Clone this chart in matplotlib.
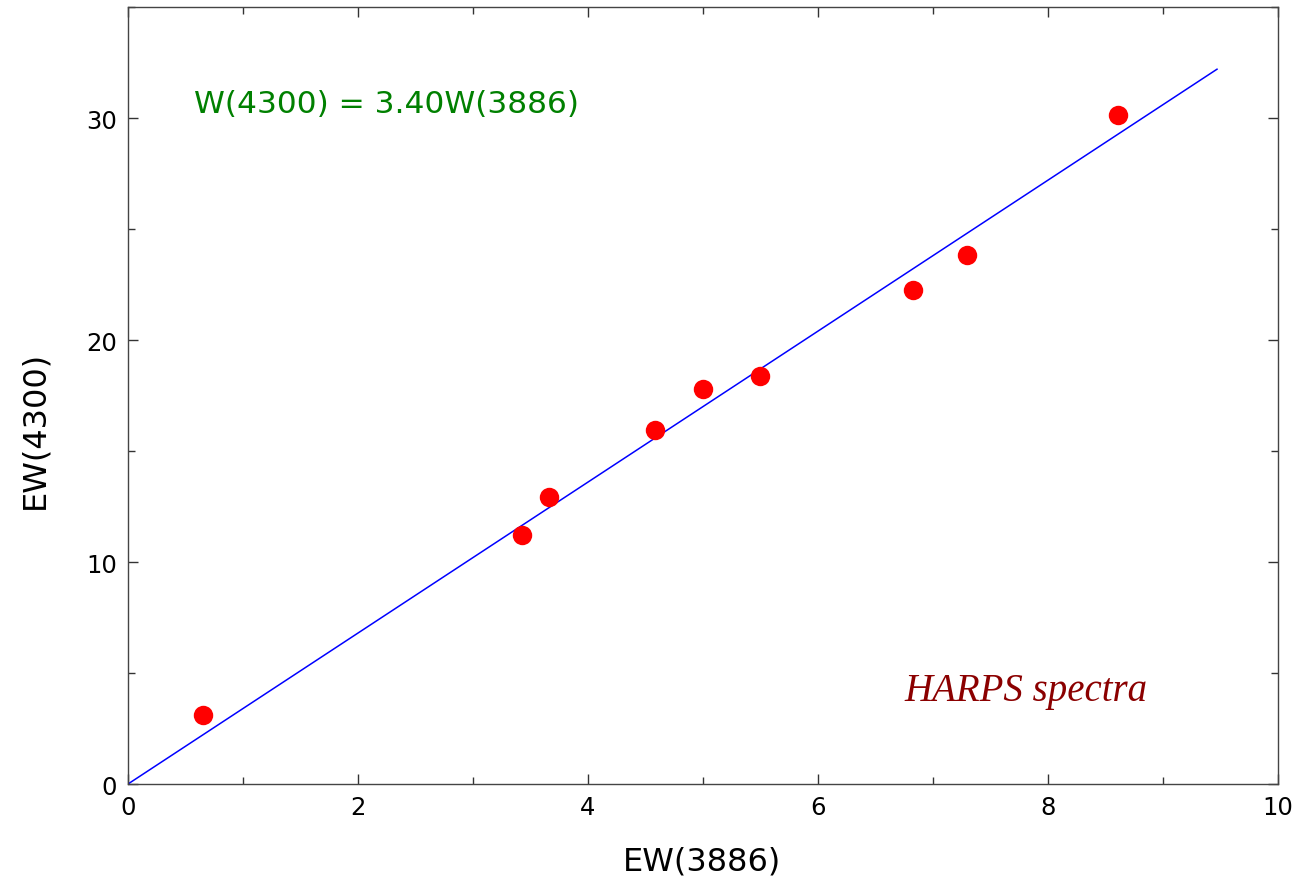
import matplotlib.pyplot as plt
import numpy as np
from matplotlib.ticker import MultipleLocator

# equivalent widths measured on the HARPS spectra
ew3886 = [0.65, 3.43, 3.66, 4.58, 5.00, 5.50, 6.83, 7.30, 8.61]
ew4300 = [3.10, 11.2, 12.95, 15.95, 17.8, 18.4, 22.25, 23.85, 30.15]
slope = 3.40
fit_xmax = 9.47

fig = plt.figure(figsize=(12.99, 8.79), dpi=100)
ax = fig.add_axes([0.0985, 0.1069, 0.8853, 0.884])

xfit = np.array([0, fit_xmax])
ax.plot(xfit, slope * xfit, color='blue', lw=1.1, zorder=2)
ax.plot(ew3886, ew4300, 'o', color='red', ms=14, mec='none', zorder=3)

ax.set_xlim(0, 10)
ax.set_ylim(0, 35)
ax.xaxis.set_major_locator(MultipleLocator(2))
ax.xaxis.set_minor_locator(MultipleLocator(1))
ax.yaxis.set_major_locator(MultipleLocator(10))
ax.yaxis.set_minor_locator(MultipleLocator(5))
ax.tick_params(which='both', direction='in', top=True, right=True,
               color='#333333', width=1)
ax.tick_params(which='major', length=7, labelsize=17.5, pad=8)
ax.tick_params(which='minor', length=5)
for s in ax.spines.values():
    s.set_color('#444444')
    s.set_linewidth(1)

ax.set_xlabel('EW(3886)', fontsize=23, va='center')
ax.set_ylabel('EW(4300)', fontsize=23, va='center', ha='center')
ax.xaxis.set_label_coords(0.499, -0.099)
ax.yaxis.set_label_coords(-0.081, 0.457)

ax.text(0.057, 0.876, f'W(4300) = {slope:.2f}W(3886)', transform=ax.transAxes,
        fontsize=22.5, color='green', va='center')
ax.text(0.675, 0.12, 'HARPS spectra', transform=ax.transAxes,
        fontsize=28, color='#8B0000', style='italic', family='Liberation Serif',
        va='center')

fig.savefig('out.png', dpi=100)
